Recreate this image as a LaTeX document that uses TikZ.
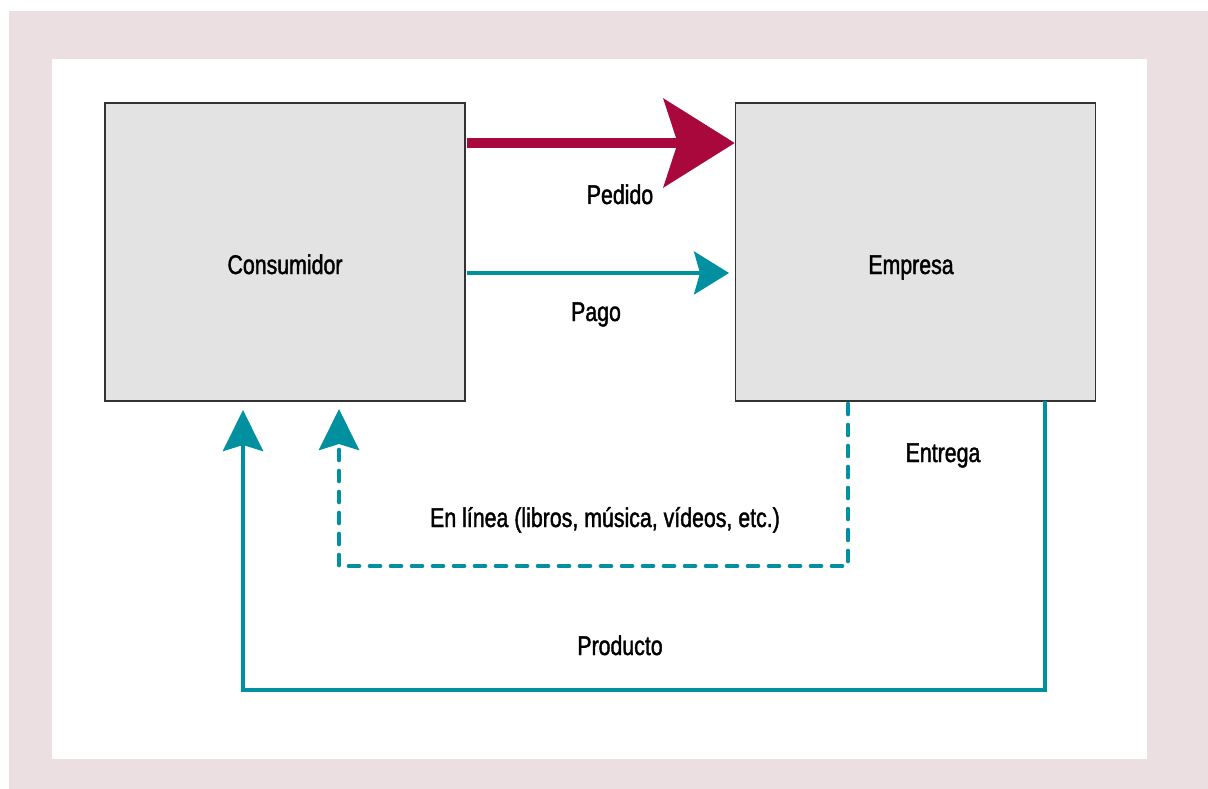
\documentclass[tikz,border=0pt]{standalone}
\usepackage{fontspec}
\setmainfont[FakeStretch=0.79, FakeBold=1.5]{Liberation Sans}
\usetikzlibrary{arrows.meta}
\definecolor{pinkbg}{HTML}{EBDFE2}
\definecolor{boxfill}{HTML}{E2E3E2}
\definecolor{boxline}{HTML}{333333}
\definecolor{tealc}{HTML}{0090A0}
\definecolor{crimson}{HTML}{A8083C}
\begin{document}
\begin{tikzpicture}[x=1pt,y=-1pt,
  txt/.style={font=\fontsize{27}{32}\selectfont, inner sep=0pt},
  box/.style={draw=boxline, fill=boxfill, line width=1.5pt, minimum width=360pt, minimum height=298pt, inner sep=0pt},
  tealline/.style={draw=tealc, line width=4.7pt},
  dashline/.style={tealline, line cap=round, dash pattern=on 10pt off 11pt},
  uphead/.style={-{Stealth[length=41pt, width=40pt, inset=6pt, fill=tealc, line cap=butt]}},
  pagohead/.style={-{Stealth[length=35pt, width=43pt, inset=6pt, fill=tealc]}},
  pedidohead/.style={-{Stealth[length=71pt, width=88pt, inset=14pt, fill=crimson]}}
]
\useasboundingbox (0,0) rectangle (1208,789);
\fill[white] (0,0) rectangle (1208,789);
\fill[pinkbg] (9,11) rectangle (1208,789);
\fill[white] (52,59) rectangle (1147,759);

\node[box] (c) at (285,252) {};
\node[txt, anchor=base] (clbl) at (285,274) {Consumidor};
\node[box] (e) at (915.5,252) {};
\node[txt, anchor=base] (elbl) at (911,274) {Empresa};

% Pedido
\coordinate (pstart) at (467,143);
\draw[draw=crimson, line width=10pt, pedidohead] (pstart) -- (e.west |- pstart);
\node[txt, anchor=base] (pedido) at (620,204) {Pedido};

% Pago
\coordinate (gstart) at (467,273);
\coordinate (gend) at (729,273);
\draw[draw=tealc, line width=4pt, pagohead] (gstart) -- (gend);
\node[txt, anchor=base] (pago) at (596,321) {Pago};

% Online delivery (dashed)
\coordinate (d0) at (848,404);
\coordinate (d1) at (848,566);
\coordinate (d2) at (339,566);
\coordinate (d3) at (339,409);
\draw[dashline, uphead, line join=round] (d0) -- (d1) -- (d2) -- (d3);

% Product delivery
\coordinate (s0) at (1045,401);
\coordinate (s1) at (1045,690);
\coordinate (s2) at (243,690);
\coordinate (s3) at (243,410);
\draw[tealline, uphead] (s0) -- (s1) -- (s2) -- (s3);

\node[txt, anchor=base] (entrega) at (943,462) {Entrega};
\node[txt, anchor=base] (online) at (605,527) {En línea (libros, música, vídeos, etc.)};
\node[txt, anchor=base] (producto) at (620,655) {Producto};
\end{tikzpicture}
\end{document}
